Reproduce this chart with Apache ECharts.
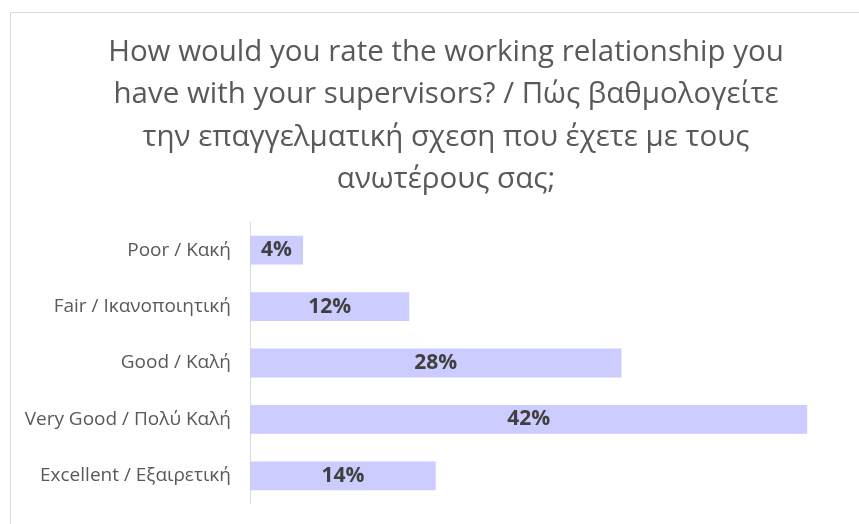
<!DOCTYPE html>
<html>
<head>
<meta charset="utf-8">
<script src="https://cdn.jsdelivr.net/npm/echarts@6/dist/echarts.min.js"></script>
<style>
  html, body { margin: 0; padding: 0; background: #fff; }
  #chart { width: 859px; height: 524px; }
</style>
</head>
<body>
<div id="chart"></div>
<script>
// categories, top to bottom as in the picture
const categories = [
  "Poor / Κακή",
  "Fair / Ικανοποιητική",
  "Good / Καλή",
  "Very Good / Πολύ Καλή",
  "Excellent / Εξαιρετική"
];
const percents = [4, 12, 28, 42, 14];

const titleText =
  "How would you rate the working relationship you\n" +
  "have with your supervisors? / Πώς βαθμολογείτε\n" +
  "την επαγγελματική σχεση που έχετε με τους\n" +
  "ανωτέρους σας;";

const chart = echarts.init(document.getElementById("chart"));

const option = {
  animation: false,
  backgroundColor: "#ffffff",
  graphic: [
    {
      // outer chart frame (only top / left visible)
      type: "rect",
      left: 8,
      top: 10,
      shape: { width: 900, height: 600 },
      style: { fill: "none", stroke: "#d9d9d9", lineWidth: 1 },
      silent: true,
      z: -1
    }
  ],
  title: {
    text: titleText,
    left: 441,
    textAlign: "center",
    top: 26,
    textStyle: {
      fontFamily: "Open Sans",
      fontSize: 29.5,
      fontWeight: "normal",
      color: "#595959",
      lineHeight: 42.5
    }
  },
  grid: {
    left: 250,
    right: 12,
    top: 222,
    bottom: 20,
    containLabel: false
  },
  xAxis: {
    type: "value",
    min: 0,
    max: 45,
    show: false
  },
  yAxis: {
    type: "category",
    inverse: true,
    data: categories,
    axisLine: { show: true, lineStyle: { color: "#d9d9d9", width: 1 } },
    axisTick: { show: false },
    axisLabel: {
      margin: 19,
      fontFamily: "Open Sans",
      fontSize: 19,
      color: "#595959"
    }
  },
  series: [
    {
      type: "bar",
      data: percents,
      barCategoryGap: "49%",
      itemStyle: { color: "#ccccff" },
      label: {
        show: true,
        position: "inside",
        formatter: "{c}%",
        fontFamily: "Open Sans",
        fontSize: 21,
        fontWeight: "bold",
        color: "#404040"
      }
    }
  ]
};

chart.setOption(option);
</script>
</body>
</html>
